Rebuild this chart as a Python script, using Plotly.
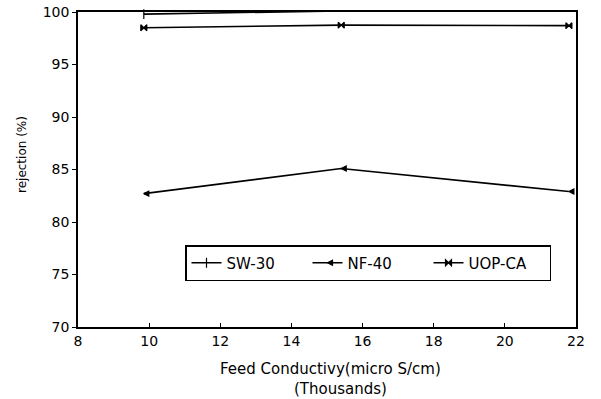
import plotly.graph_objects as go

x_vals = [9.85, 15.4, 21.8]
sw30 = [99.8, 100.1, 100.3]
nf40 = [82.7, 85.1, 82.9]
uopca = [98.5, 98.75, 98.7]
series_names = ["SW-30", "NF-40", "UOP-CA"]
x_ticks = [8, 10, 12, 14, 16, 18, 20, 22]
y_ticks = [70, 75, 80, 85, 90, 95, 100]
x_title_1 = "Feed Conductivy(micro S/cm)"
x_title_2 = "(Thousands)"
y_title = "rejection (%)"

font = "DejaVu Sans, Verdana, sans-serif"
W, H = 601, 399
L, R, T, B = 78, 25, 12, 72
pw, ph = W - L - R, H - T - B

def px_x(px):
    return (px - L) / pw

def px_y(py):
    return (H - B - py) / ph

fig = go.Figure()
symbols = ["line-ns", "arrow-left", "bowtie"]
sizes = [7, 5, 6]
for name, vals, sym, sz in zip(series_names, [sw30, nf40, uopca], symbols, sizes):
    fig.add_trace(go.Scatter(
        x=x_vals, y=vals, name=name, mode="lines+markers",
        line=dict(color="black", width=1.6),
        marker=dict(symbol=sym, size=sz, color="black",
                    line=dict(color="black", width=1.2)),
        cliponaxis=False,
    ))

fig.add_annotation(text=x_title_1, xref="paper", yref="paper",
                   x=px_x(330), y=px_y(369), xanchor="center", yanchor="middle",
                   showarrow=False, font=dict(size=15, family=font))
fig.add_annotation(text=x_title_2, xref="paper", yref="paper",
                   x=px_x(340), y=px_y(389), xanchor="center", yanchor="middle",
                   showarrow=False, font=dict(size=15, family=font))
fig.add_annotation(text=y_title, xref="paper", yref="paper", textangle=-90,
                   x=px_x(22), y=px_y(155), xanchor="center", yanchor="middle",
                   showarrow=False, font=dict(size=12, family=font))

fig.update_layout(
    width=W, height=H,
    margin=dict(l=L, r=R, t=T, b=B, autoexpand=False),
    paper_bgcolor="white", plot_bgcolor="white",
    font=dict(family=font, size=14, color="black"),
    showlegend=True,
    legend=dict(
        orientation="h", x=px_x(185), y=px_y(245), xanchor="left", yanchor="top",
        bordercolor="black", borderwidth=1.5, bgcolor="white",
        font=dict(size=15, family=font),
        itemwidth=30, entrywidth=76, entrywidthmode="pixels",
        tracegroupgap=0,
    ),
    xaxis=dict(
        range=[8, 22], tickvals=x_ticks, ticks="inside", ticklen=4,
        tickcolor="black", showgrid=False, zeroline=False, automargin=False,
        showline=True, linecolor="black", linewidth=1.5, mirror=True,
        tickfont=dict(size=14),
    ),
    yaxis=dict(
        range=[70, 100], tickvals=y_ticks, ticks="outside", ticklen=4,
        tickcolor="black", showgrid=False, zeroline=False, automargin=False,
        showline=True, linecolor="black", linewidth=1.5, mirror=True,
        tickfont=dict(size=14),
    ),
)

fig.write_html("out.html", config={"displayModeBar": False},
               post_script="document.body.style.margin='0';")
